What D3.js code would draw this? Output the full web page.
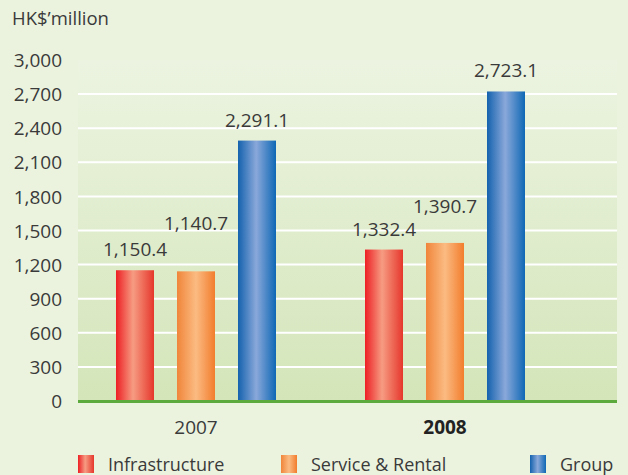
<!DOCTYPE html>
<html>
<head>
<meta charset="utf-8">
<script src="https://cdn.jsdelivr.net/npm/d3@7"></script>
<style>
  html, body { margin: 0; padding: 0; background: #ebf3df; }
  svg { display: block; }
  text { font-family: "Open Sans", "Noto Sans", sans-serif; fill: #3a3a3a; }
</style>
</head>
<body>
<svg id="chart" width="628" height="475"></svg>
<script>
// Revenue by segment, HK$ million
const years = ["2007", "2008"];
const series = ["Infrastructure", "Service & Rental", "Group"];
const infrastructure = [1150.4, 1332.4];
const serviceRental = [1140.7, 1390.7];
const group = [2291.1, 2723.1];
const yTicks = [0, 300, 600, 900, 1200, 1500, 1800, 2100, 2400, 2700, 3000];
const unitLabel = "HK$\u2019million";

const values = [infrastructure, serviceRental, group];

const svg = d3.select("#chart");
const plot = { left: 78, right: 617, top: 60, bottom: 401 };

const y = d3.scaleLinear().domain([0, 3000]).range([plot.bottom, plot.top]);
const x0 = d3.scaleBand().domain(years).range([71.5, 569.5]);
const x1 = d3.scaleBand().domain(series).range([-80, 80]).paddingInner(23 / 61).paddingOuter(0);

// gradients
const defs = svg.append("defs");
const bg = defs.append("linearGradient").attr("id", "bg").attr("x1", 0).attr("y1", 0).attr("x2", 0).attr("y2", 1);
bg.append("stop").attr("offset", "0%").attr("stop-color", "#ecf4e1");
bg.append("stop").attr("offset", "100%").attr("stop-color", "#d4e5b9");

const barStops = {
  "Infrastructure": [["0%", "#ed1f24"], ["45%", "#f69c82"], ["100%", "#e6372c"]],
  "Service & Rental": [["0%", "#f0853a"], ["50%", "#fbbb82"], ["100%", "#f27d2d"]],
  "Group": [["0%", "#1462ae"], ["48%", "#8aa8da"], ["100%", "#0f68b5"]]
};
series.forEach((s, i) => {
  const g = defs.append("linearGradient").attr("id", "bar" + i)
    .attr("x1", 0).attr("y1", 0).attr("x2", 1).attr("y2", 0);
  barStops[s].forEach(([o, c]) => g.append("stop").attr("offset", o).attr("stop-color", c));
});

// plot background
svg.append("rect")
  .attr("x", plot.left).attr("y", plot.top)
  .attr("width", plot.right - plot.left).attr("height", plot.bottom - plot.top)
  .attr("fill", "url(#bg)");

// gridlines
svg.append("g").selectAll("line")
  .data(yTicks.filter(t => t > 0 && t < 3000))
  .join("line")
  .attr("x1", plot.left).attr("x2", plot.right)
  .attr("y1", d => y(d)).attr("y2", d => y(d))
  .attr("stroke", "#ffffff").attr("stroke-width", 2);

// y axis labels
const yAxis = d3.axisLeft(y).tickValues(yTicks).tickFormat(d3.format(",")).tickSize(0).tickPadding(0);
const ya = svg.append("g").attr("transform", "translate(62,0)").call(yAxis);
ya.select(".domain").remove();
ya.selectAll("text").attr("font-size", 19).attr("fill", "#3a3a3a")
  .style("font-family", "'Open Sans', 'Noto Sans', sans-serif").attr("dy", "0.35em");

// unit label
svg.append("text").attr("x", 12).attr("y", 25).attr("font-size", 18.5).text(unitLabel);

// value labels sit above their bars; the middle series is raised further
const labelLift = (s, yi) => s === "Service & Rental" ? [41, 30][yi] : 14;

const groups = svg.append("g").selectAll("g")
  .data(years)
  .join("g")
  .attr("transform", d => `translate(${x0(d) + x0.bandwidth() / 2},0)`);

groups.each(function (yr, yi) {
  const g = d3.select(this);
  series.forEach((s, si) => {
    const v = values[si][yi];
    g.append("rect")
      .attr("x", x1(s)).attr("width", x1.bandwidth())
      .attr("y", y(v)).attr("height", y(0) - y(v))
      .attr("fill", `url(#bar${si})`);
    g.append("text")
      .attr("x", x1(s) + x1.bandwidth() / 2)
      .attr("y", y(v) - labelLift(s, yi))
      .attr("text-anchor", "middle")
      .attr("font-size", 19)
      .text(d3.format(",.1f")(v));
  });
});

// baseline
svg.append("line")
  .attr("x1", plot.left).attr("x2", plot.right)
  .attr("y1", y(0) + 0.5).attr("y2", y(0) + 0.5)
  .attr("stroke", "#5ca93d").attr("stroke-width", 3);

// category labels
svg.append("g").selectAll("text")
  .data(years)
  .join("text")
  .attr("x", d => x0(d) + x0.bandwidth() / 2)
  .attr("y", 434)
  .attr("text-anchor", "middle")
  .attr("font-size", 19)
  .attr("font-weight", (d, i) => i === years.length - 1 ? "bold" : "normal")
  .style("fill", (d, i) => i === years.length - 1 ? "#222" : "#3a3a3a")
  .text(d => d);

// legend
const legendX = [78, 281, 530];
const legend = svg.append("g").selectAll("g")
  .data(series)
  .join("g")
  .attr("transform", (d, i) => `translate(${legendX[i]},455)`);
legend.append("rect").attr("width", 16).attr("height", 18).attr("fill", (d, i) => `url(#bar${i})`);
legend.append("text").attr("x", 30).attr("y", 16).attr("font-size", 18).text(d => d);
</script>
</body>
</html>
